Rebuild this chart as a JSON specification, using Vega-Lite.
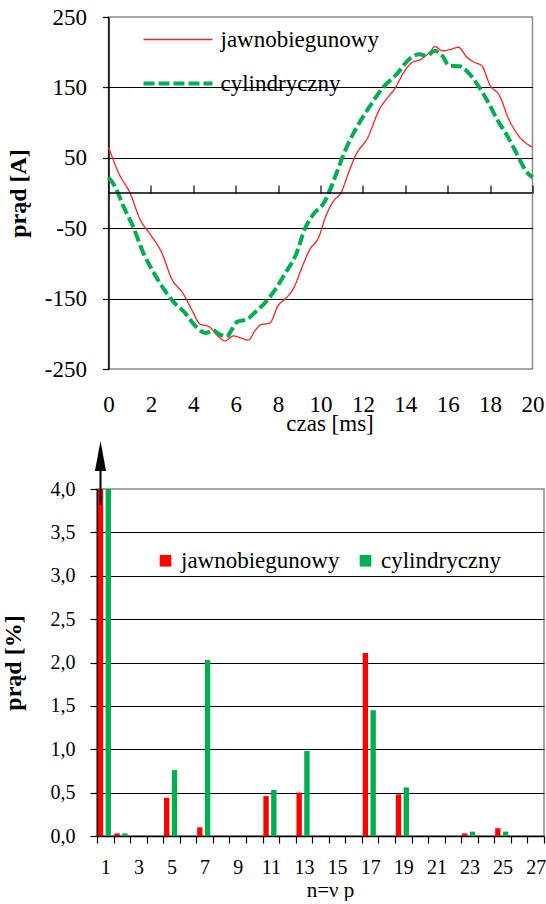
{
  "$schema": "https://vega.github.io/schema/vega-lite/v6.json",
  "padding": {"left": 0, "top": 5, "right": 0, "bottom": 0},
  "bounds": "flush",
  "center": true,
  "spacing": 120,
  "resolve": {
    "scale": {"x": "independent", "y": "independent", "color": "independent", "xOffset": "independent", "strokeDash": "independent", "strokeWidth": "independent"},
    "legend": {"color": "independent", "strokeDash": "independent", "strokeWidth": "independent"}
  },
  "config": {
    "font": "Liberation Serif, Times New Roman, serif",
    "view": {"stroke": "#8a8a8a", "strokeWidth": 1.5},
    "axis": {
      "labelFont": "Liberation Serif, Times New Roman, serif",
      "titleFont": "Liberation Serif, Times New Roman, serif",
      "labelColor": "#000000",
      "titleColor": "#000000",
      "domainColor": "#000000",
      "tickColor": "#000000",
      "gridColor": "#000000",
      "domainWidth": 1.5,
      "tickWidth": 1.2,
      "gridWidth": 1.2,
      "labelAngle": 0
    },
    "legend": {"labelFont": "Liberation Serif, Times New Roman, serif", "labelColor": "#000000", "padding": 0}
  },
  "vconcat": [
    {
      "width": 424,
      "height": 352,
      "data": {
        "values": [
          {"t": 0, "prad": 65, "seria": "jawnobiegunowy"},
          {"t": 0.5, "prad": 27, "seria": "jawnobiegunowy"},
          {"t": 1.0, "prad": 1, "seria": "jawnobiegunowy"},
          {"t": 1.5, "prad": -38, "seria": "jawnobiegunowy"},
          {"t": 2.0, "prad": -60, "seria": "jawnobiegunowy"},
          {"t": 2.5, "prad": -84, "seria": "jawnobiegunowy"},
          {"t": 3.0, "prad": -123, "seria": "jawnobiegunowy"},
          {"t": 3.5, "prad": -142, "seria": "jawnobiegunowy"},
          {"t": 4.0, "prad": -170, "seria": "jawnobiegunowy"},
          {"t": 4.3, "prad": -186, "seria": "jawnobiegunowy"},
          {"t": 4.75, "prad": -190, "seria": "jawnobiegunowy"},
          {"t": 5.15, "prad": -203, "seria": "jawnobiegunowy"},
          {"t": 5.5, "prad": -210, "seria": "jawnobiegunowy"},
          {"t": 5.9, "prad": -203, "seria": "jawnobiegunowy"},
          {"t": 6.25, "prad": -206, "seria": "jawnobiegunowy"},
          {"t": 6.6, "prad": -209, "seria": "jawnobiegunowy"},
          {"t": 6.9, "prad": -196, "seria": "jawnobiegunowy"},
          {"t": 7.2, "prad": -187, "seria": "jawnobiegunowy"},
          {"t": 7.6, "prad": -185, "seria": "jawnobiegunowy"},
          {"t": 8.0, "prad": -160, "seria": "jawnobiegunowy"},
          {"t": 8.35, "prad": -150, "seria": "jawnobiegunowy"},
          {"t": 8.7, "prad": -137, "seria": "jawnobiegunowy"},
          {"t": 9.2, "prad": -100, "seria": "jawnobiegunowy"},
          {"t": 9.5, "prad": -80, "seria": "jawnobiegunowy"},
          {"t": 9.9, "prad": -64, "seria": "jawnobiegunowy"},
          {"t": 10.25, "prad": -33, "seria": "jawnobiegunowy"},
          {"t": 10.6, "prad": -12, "seria": "jawnobiegunowy"},
          {"t": 11.0, "prad": 2, "seria": "jawnobiegunowy"},
          {"t": 11.3, "prad": 27, "seria": "jawnobiegunowy"},
          {"t": 11.7, "prad": 56, "seria": "jawnobiegunowy"},
          {"t": 12.2, "prad": 77, "seria": "jawnobiegunowy"},
          {"t": 12.8, "prad": 120, "seria": "jawnobiegunowy"},
          {"t": 13.1, "prad": 133, "seria": "jawnobiegunowy"},
          {"t": 13.5, "prad": 148, "seria": "jawnobiegunowy"},
          {"t": 13.9, "prad": 170, "seria": "jawnobiegunowy"},
          {"t": 14.3, "prad": 185, "seria": "jawnobiegunowy"},
          {"t": 14.75, "prad": 190, "seria": "jawnobiegunowy"},
          {"t": 15.15, "prad": 200, "seria": "jawnobiegunowy"},
          {"t": 15.4, "prad": 208, "seria": "jawnobiegunowy"},
          {"t": 15.75, "prad": 202, "seria": "jawnobiegunowy"},
          {"t": 16.15, "prad": 204, "seria": "jawnobiegunowy"},
          {"t": 16.5, "prad": 207, "seria": "jawnobiegunowy"},
          {"t": 16.9, "prad": 193, "seria": "jawnobiegunowy"},
          {"t": 17.3, "prad": 185, "seria": "jawnobiegunowy"},
          {"t": 17.6, "prad": 181, "seria": "jawnobiegunowy"},
          {"t": 18.0, "prad": 153, "seria": "jawnobiegunowy"},
          {"t": 18.45, "prad": 138, "seria": "jawnobiegunowy"},
          {"t": 18.85, "prad": 107, "seria": "jawnobiegunowy"},
          {"t": 19.35, "prad": 81, "seria": "jawnobiegunowy"},
          {"t": 20.0, "prad": 65, "seria": "jawnobiegunowy"},
          {"t": 0, "prad": 22, "seria": "cylindryczny"},
          {"t": 0.33, "prad": 8, "seria": "cylindryczny"},
          {"t": 0.66, "prad": -16, "seria": "cylindryczny"},
          {"t": 1.15, "prad": -47, "seria": "cylindryczny"},
          {"t": 1.64, "prad": -85, "seria": "cylindryczny"},
          {"t": 2.13, "prad": -113, "seria": "cylindryczny"},
          {"t": 2.62, "prad": -137, "seria": "cylindryczny"},
          {"t": 3.11, "prad": -156, "seria": "cylindryczny"},
          {"t": 3.6, "prad": -170, "seria": "cylindryczny"},
          {"t": 4.1, "prad": -189, "seria": "cylindryczny"},
          {"t": 4.59, "prad": -199, "seria": "cylindryczny"},
          {"t": 4.92, "prad": -195, "seria": "cylindryczny"},
          {"t": 5.25, "prad": -201, "seria": "cylindryczny"},
          {"t": 5.57, "prad": -204, "seria": "cylindryczny"},
          {"t": 5.82, "prad": -194, "seria": "cylindryczny"},
          {"t": 6.07, "prad": -183, "seria": "cylindryczny"},
          {"t": 6.56, "prad": -179, "seria": "cylindryczny"},
          {"t": 6.89, "prad": -170, "seria": "cylindryczny"},
          {"t": 7.38, "prad": -156, "seria": "cylindryczny"},
          {"t": 7.87, "prad": -137, "seria": "cylindryczny"},
          {"t": 8.36, "prad": -113, "seria": "cylindryczny"},
          {"t": 8.85, "prad": -87, "seria": "cylindryczny"},
          {"t": 9.26, "prad": -51, "seria": "cylindryczny"},
          {"t": 9.67, "prad": -30, "seria": "cylindryczny"},
          {"t": 10.16, "prad": -14, "seria": "cylindryczny"},
          {"t": 10.5, "prad": 8, "seria": "cylindryczny"},
          {"t": 10.74, "prad": 27, "seria": "cylindryczny"},
          {"t": 11.23, "prad": 65, "seria": "cylindryczny"},
          {"t": 11.8, "prad": 98, "seria": "cylindryczny"},
          {"t": 12.3, "prad": 122, "seria": "cylindryczny"},
          {"t": 12.95, "prad": 150, "seria": "cylindryczny"},
          {"t": 13.6, "prad": 169, "seria": "cylindryczny"},
          {"t": 14.18, "prad": 190, "seria": "cylindryczny"},
          {"t": 14.67, "prad": 197, "seria": "cylindryczny"},
          {"t": 15.0, "prad": 195, "seria": "cylindryczny"},
          {"t": 15.41, "prad": 202, "seria": "cylindryczny"},
          {"t": 15.74, "prad": 195, "seria": "cylindryczny"},
          {"t": 16.07, "prad": 181, "seria": "cylindryczny"},
          {"t": 16.56, "prad": 180, "seria": "cylindryczny"},
          {"t": 16.97, "prad": 171, "seria": "cylindryczny"},
          {"t": 17.38, "prad": 155, "seria": "cylindryczny"},
          {"t": 17.87, "prad": 131, "seria": "cylindryczny"},
          {"t": 18.36, "prad": 103, "seria": "cylindryczny"},
          {"t": 18.85, "prad": 79, "seria": "cylindryczny"},
          {"t": 19.34, "prad": 51, "seria": "cylindryczny"},
          {"t": 19.67, "prad": 32, "seria": "cylindryczny"},
          {"t": 20.0, "prad": 22, "seria": "cylindryczny"}
        ]
      },
      "encoding": {
        "y": {
          "field": "prad",
          "type": "quantitative",
          "scale": {"domain": [-250, 250], "nice": false, "zero": false},
          "axis": {
            "title": "prąd [A]",
            "titleFont": "Liberation Serif, Times New Roman, serif",
            "titleFontSize": 24,
            "titleFontWeight": "bold",
            "titlePadding": 14,
            "values": [-250, -150, -50, 50, 150, 250],
            "labelExpr": "toString(datum.value)",
            "labelFont": "Liberation Serif, Times New Roman, serif",
            "labelFontSize": 23,
            "labelPadding": 16,
            "tickSize": 6,
            "grid": true,
            "gridOpacity": {"condition": {"test": "abs(datum.value) == 250", "value": 0}, "value": 1}
          }
        }
      },
      "layer": [
        {
          "mark": {"type": "line", "interpolate": "monotone"},
          "encoding": {
            "x": {
              "field": "t",
              "type": "quantitative",
              "scale": {"domain": [0, 20], "nice": false},
              "axis": {
                "title": "czas [ms]",
                "titleFont": "Liberation Serif, Times New Roman, serif",
                "titleFontSize": 23,
                "titleFontWeight": "normal",
                "titlePadding": -4,
                "titleX": 221,
                "values": [0, 2, 4, 6, 8, 10, 12, 14, 16, 18, 20],
                "format": "d",
                "labelFont": "Liberation Serif, Times New Roman, serif",
                "labelFontSize": 23,
                "labelPadding": 24,
                "labelFlush": false,
                "domain": false,
                "ticks": false,
                "tickSize": 0,
                "grid": false
              }
            },
            "color": {
              "field": "seria",
              "type": "nominal",
              "scale": {"domain": ["jawnobiegunowy", "cylindryczny"], "range": ["#ff2020", "#00b050"]},
              "legend": {
                "orient": "none",
                "legendX": 33,
                "legendY": 9,
                "title": null,
                "symbolType": "stroke",
                "symbolSize": 4761,
                "clipHeight": 27,
                "labelFont": "Liberation Serif, Times New Roman, serif",
                "labelFontSize": 23,
                "labelOffset": 6,
                "rowPadding": 17
              }
            },
            "strokeDash": {
              "field": "seria",
              "type": "nominal",
              "scale": {"domain": ["jawnobiegunowy", "cylindryczny"], "range": [[1, 0], [11, 4]]}
            },
            "strokeWidth": {
              "field": "seria",
              "type": "ordinal",
              "scale": {"domain": ["jawnobiegunowy", "cylindryczny"], "range": [1.3, 4]}
            }
          }
        },
        {
          "data": {"values": [{"t": 0, "t2": 20, "prad": 0}]},
          "mark": {"type": "rule", "color": "#000000", "strokeWidth": 1.5},
          "encoding": {
            "x": {
              "field": "t",
              "type": "quantitative",
              "axis": {
                "offset": -176,
                "labels": false,
                "title": null,
                "domain": false,
                "ticks": true,
                "tickSize": 8,
                "grid": false,
                "values": [2, 4, 6, 8, 10, 12, 14, 16, 18, 20]
              }
            },
            "x2": {"field": "t2"}
          }
        }
      ],
      "resolve": {"axis": {"x": "independent"}}
    },
    {
      "width": 447,
      "height": 347,
      "layer": [
        {
          "data": {
            "values": [
              {"n": 1, "seria": "jawnobiegunowy", "wartosc": 100},
              {"n": 1, "seria": "cylindryczny", "wartosc": 100},
              {"n": 2, "seria": "jawnobiegunowy", "wartosc": 0.03},
              {"n": 2, "seria": "cylindryczny", "wartosc": 0.03},
              {"n": 5, "seria": "jawnobiegunowy", "wartosc": 0.44},
              {"n": 5, "seria": "cylindryczny", "wartosc": 0.76},
              {"n": 7, "seria": "jawnobiegunowy", "wartosc": 0.1},
              {"n": 7, "seria": "cylindryczny", "wartosc": 2.03},
              {"n": 11, "seria": "jawnobiegunowy", "wartosc": 0.46},
              {"n": 11, "seria": "cylindryczny", "wartosc": 0.53},
              {"n": 13, "seria": "jawnobiegunowy", "wartosc": 0.5},
              {"n": 13, "seria": "cylindryczny", "wartosc": 0.98},
              {"n": 17, "seria": "jawnobiegunowy", "wartosc": 2.11},
              {"n": 17, "seria": "cylindryczny", "wartosc": 1.45},
              {"n": 19, "seria": "jawnobiegunowy", "wartosc": 0.48},
              {"n": 19, "seria": "cylindryczny", "wartosc": 0.56},
              {"n": 23, "seria": "jawnobiegunowy", "wartosc": 0.03},
              {"n": 23, "seria": "cylindryczny", "wartosc": 0.05},
              {"n": 25, "seria": "jawnobiegunowy", "wartosc": 0.09},
              {"n": 25, "seria": "cylindryczny", "wartosc": 0.05}
            ]
          },
          "mark": {"type": "bar", "clip": true},
          "encoding": {
            "x": {
              "field": "n",
              "type": "ordinal",
              "scale": {
                "domain": [1, 2, 3, 4, 5, 6, 7, 8, 9, 10, 11, 12, 13, 14, 15, 16, 17, 18, 19, 20, 21, 22, 23, 24, 25, 26, 27],
                "paddingInner": 0,
                "paddingOuter": 0
              },
              "axis": {
                "title": "n=ν p",
                "titleFont": "Liberation Serif, Times New Roman, serif",
                "titleFontSize": 21,
                "titleFontWeight": "normal",
                "titlePadding": 2,
                "titleX": 233,
                "labelFont": "Liberation Serif, Times New Roman, serif",
                "labelFontSize": 20,
                "labelPadding": 14,
                "labelExpr": "datum.value % 2 == 1 ? datum.label : ''",
                "tickBand": "extent",
                "tickSize": 7,
                "grid": false
              }
            },
            "xOffset": {
              "field": "seria",
              "type": "nominal",
              "scale": {
                "domain": ["jawnobiegunowy", "cylindryczny"],
                "paddingInner": 0.31,
                "paddingOuter": 0.22,
                "align": 0.24
              }
            },
            "y": {
              "field": "wartosc",
              "type": "quantitative",
              "scale": {"domain": [0, 4], "nice": false},
              "axis": {
                "title": "prąd [%]",
                "titleFont": "Liberation Serif, Times New Roman, serif",
                "titleFontSize": 24,
                "titleFontWeight": "bold",
                "titlePadding": 25,
                "values": [0, 0.5, 1, 1.5, 2, 2.5, 3, 3.5, 4],
                "format": ".1f",
                "labelExpr": "replace(datum.label, '.', ',')",
                "labelFont": "Liberation Serif, Times New Roman, serif",
                "labelFontSize": 20,
                "labelPadding": 15,
                "tickSize": 7,
                "grid": true,
                "gridOpacity": {"condition": {"test": "datum.value == 4 || datum.value == 0", "value": 0}, "value": 1}
              }
            },
            "color": {
              "field": "seria",
              "type": "nominal",
              "scale": {"domain": ["jawnobiegunowy", "cylindryczny"], "range": ["#ff0000", "#00b050"]},
              "legend": {
                "orient": "none",
                "legendX": 57,
                "legendY": 60,
                "direction": "horizontal",
                "title": null,
                "symbolType": "square",
                "symbolSize": 136,
                "symbolStrokeWidth": 0,
                "labelFont": "Liberation Serif, Times New Roman, serif",
                "labelFontSize": 23,
                "labelOffset": 4,
                "columnPadding": 14
              }
            }
          }
        },
        {
          "data": {"values": [{}]},
          "mark": {"type": "rule", "color": "#000000", "strokeWidth": 2, "clip": false},
          "encoding": {
            "x": {"datum": 1, "type": "ordinal"},
            "xOffset": {"datum": "jawnobiegunowy", "type": "nominal"},
            "y": {"datum": 3.82, "type": "quantitative"},
            "y2": {"datum": 4.3}
          }
        },
        {
          "data": {"values": [{}]},
          "mark": {
            "type": "point",
            "shape": "M0,-1L0.37,1L-0.37,1Z",
            "filled": true,
            "color": "#000000",
            "opacity": 1,
            "size": 900,
            "clip": false
          },
          "encoding": {
            "x": {"datum": 1, "type": "ordinal"},
            "xOffset": {"datum": "jawnobiegunowy", "type": "nominal"},
            "y": {"datum": 4.38, "type": "quantitative"}
          }
        }
      ]
    }
  ]
}
